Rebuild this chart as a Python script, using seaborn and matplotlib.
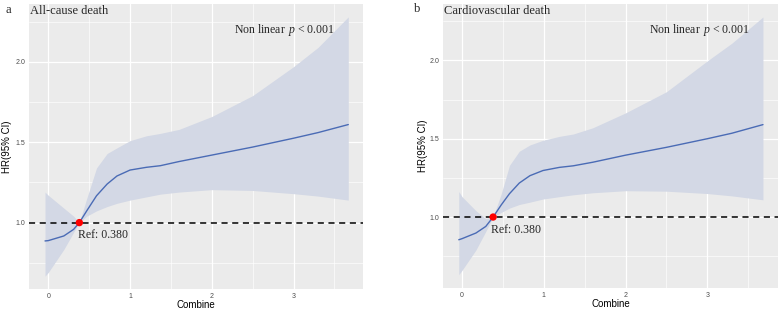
import numpy as np
import pandas as pd
import matplotlib
matplotlib.use("Agg")
import matplotlib.pyplot as plt
import seaborn as sns

# panel a - all-cause death
x_a = [-0.04, 0.0, 0.19, 0.31, 0.38, 0.47, 0.59, 0.72, 0.84, 1.0, 1.2, 1.37, 1.6, 2.0, 2.5, 3.0, 3.3, 3.67]
hr_a = [0.886, 0.888, 0.917, 0.958, 1.0, 1.073, 1.167, 1.24, 1.29, 1.327, 1.344, 1.354, 1.38, 1.42, 1.47, 1.525, 1.56, 1.61]
up_a = [1.19, 1.17, 1.09, 1.04, 1.0, 1.15, 1.34, 1.43, 1.465, 1.51, 1.54, 1.555, 1.58, 1.66, 1.79, 1.97, 2.09, 2.28]
lo_a = [0.667, 0.69, 0.833, 0.94, 1.0, 1.04, 1.073, 1.10, 1.12, 1.14, 1.16, 1.177, 1.19, 1.205, 1.20, 1.18, 1.165, 1.14]

# panel b - cardiovascular death
x_b = [-0.04, 0.0, 0.17, 0.29, 0.38, 0.48, 0.58, 0.70, 0.83, 0.99, 1.19, 1.36, 1.6, 2.0, 2.5, 3.0, 3.3, 3.68]
hr_b = [0.855, 0.862, 0.898, 0.94, 1.0, 1.078, 1.149, 1.217, 1.264, 1.297, 1.317, 1.327, 1.35, 1.395, 1.445, 1.50, 1.535, 1.59]
up_b = [1.163, 1.13, 1.04, 0.99, 1.0, 1.15, 1.33, 1.42, 1.46, 1.49, 1.515, 1.53, 1.57, 1.665, 1.80, 1.997, 2.11, 2.277]
lo_b = [0.632, 0.66, 0.79, 0.908, 1.0, 1.03, 1.057, 1.08, 1.095, 1.115, 1.13, 1.142, 1.155, 1.168, 1.165, 1.15, 1.135, 1.11]

ref_x = 0.380
titles = ["All-cause death", "Cardiovascular death"]
letters = ["a", "b"]

sns.set_theme(style="darkgrid")
plt.rcParams['font.family'] = ['Liberation Sans', 'DejaVu Sans']
plt.rcParams['mathtext.fontset'] = 'custom'
plt.rcParams['mathtext.rm'] = 'Liberation Serif'
plt.rcParams['mathtext.it'] = 'Liberation Serif:italic'

fig = plt.figure(figsize=(7.8, 3.1), dpi=100)
ax_a = fig.add_axes([29/780, 21/310, 334/780, 285/310])
ax_b = fig.add_axes([443/780, 22/310, 335/780, 284/310])

panels = [
    (ax_a, x_a, hr_a, up_a, lo_a, (-0.236, 3.85), (0.587, 2.36), -0.052),
    (ax_b, x_b, hr_b, up_b, lo_b, (-0.233, 3.864), (0.547, 2.36), -0.045),
]

serif = ['Liberation Serif', 'DejaVu Serif']

for i, (ax, xs, hr, up, lo, xl, yl, ylab_x) in enumerate(panels):
    df = pd.DataFrame({'Combine': xs, 'HR': hr, 'upper': up, 'lower': lo})
    ax.set_facecolor('#EBEBEB')
    ax.fill_between(df['Combine'], df['lower'], df['upper'], color='#D3D8E5', lw=0, zorder=2)
    sns.lineplot(data=df, x='Combine', y='HR', ax=ax, color='#4A6BB5', lw=1.0, zorder=3)
    ax.axhline(1.0, color='black', ls=(0, (4, 3)), lw=1.1, zorder=4)
    ax.scatter([ref_x], [1.0], color='red', s=28, zorder=5, edgecolor='none')

    ax.set_xlim(*xl)
    ax.set_ylim(*yl)
    ax.set_xticks([0, 1, 2, 3])
    ax.set_yticks([1.0, 1.5, 2.0])
    ax.set_yticklabels(['1.0', '1.5', '2.0'])
    ax.set_xticks([0.5, 1.5, 2.5, 3.5], minor=True)
    ax.set_yticks([0.75, 1.25, 1.75, 2.25], minor=True)
    ax.grid(which='major', color='white', lw=0.9)
    ax.grid(which='minor', color='white', lw=0.45)
    ax.set_axisbelow(True)
    for s in ax.spines.values():
        s.set_visible(False)
    ax.tick_params(axis='both', which='major', length=1.8, width=0.6, color='#333333',
                   labelsize=5, labelcolor='#4D4D4D', pad=1)
    ax.tick_params(axis='both', which='minor', length=0)
    ax.set_xlabel('Combine', fontsize=7, labelpad=0, color='black')
    ax.set_ylabel('HR(95% CI)', fontsize=7, color='black')
    ax.yaxis.set_label_coords(ylab_x, 0.5)

    ax.text(0.003, 0.995, titles[i], transform=ax.transAxes, ha='left', va='top',
            fontsize=9, family=serif)
    ax.text(0.915, 0.91, r'Non linear $\,p$ < 0.001', transform=ax.transAxes, ha='right',
            va='center', fontsize=8.5, family=serif)
    ax.text(ref_x - 0.02, 0.92, 'Ref: 0.380', ha='left', va='center', fontsize=8.5,
            family=serif, zorder=6)

fig.text(5/780, 1 - 10/310, letters[0], ha='left', va='center', fontsize=9, family=serif)
fig.text(414/780, 1 - 9/310, letters[1], ha='left', va='center', fontsize=9, family=serif)

fig.savefig('out.png', dpi=100)
